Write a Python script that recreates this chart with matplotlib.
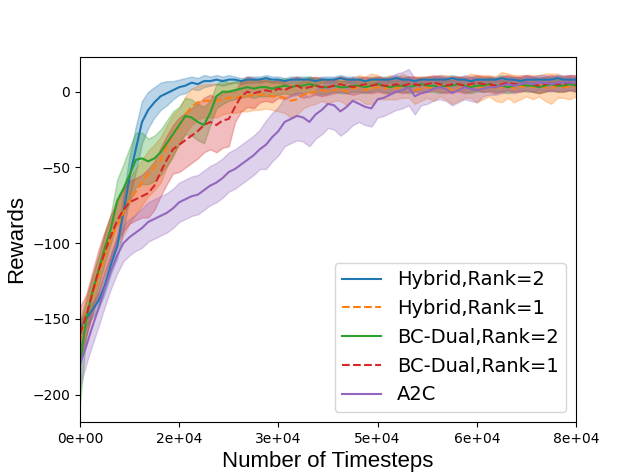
import numpy as np
import matplotlib
matplotlib.use('Agg')
import matplotlib.pyplot as plt
from matplotlib.ticker import FormatStrFormatter

# timesteps, one point per 1000 steps
steps = np.arange(0, 81000, 1000)

# Hybrid, Rank=2
hyb2_mean = [-157, -150, -144, -138, -128, -114, -102, -80, -56, -38,
             -20, -12, -7, -3, -1, 1, 3, 4, 6, 5,
             7, 7, 8, 7, 8, 8, 7, 8, 8, 8,
             9, 8, 8, 7, 8, 8, 8, 8, 7, 8,
             8, 8, 9, 8, 8, 8, 7, 8, 8, 8,
             8, 9, 8, 8, 7, 8, 8, 8, 8, 8,
             9, 8, 8, 7, 8, 8, 8, 8, 9, 8,
             8, 7, 8, 8, 8, 8, 8, 9, 8, 8, 8]
hyb2_std = [6, 5, 5, 5, 5, 6, 8, 12, 14, 15,
            14, 12, 10, 9, 8, 6, 5, 5, 4, 4,
            4, 3, 3, 3, 3, 2, 2, 2, 2, 2,
            2, 2, 2, 2, 2, 2, 2, 2, 2, 2,
            2, 2, 2, 2, 2, 2, 2, 2, 2, 2,
            2, 2, 2, 2, 2, 2, 2, 2, 2, 2,
            2, 2, 2, 2, 2, 2, 2, 2, 2, 2,
            2, 2, 2, 2, 2, 2, 2, 2, 2, 2, 2]

# Hybrid, Rank=1
hyb1_mean = [-165, -148, -135, -122, -108, -97, -88, -80, -72, -66,
             -60, -54, -50, -45, -36, -28, -23, -15, -10, -7,
             -6, -6, -6, -5, -4, -4, -3, -3, -2, -2,
             -2, -3, -3, -4, -6, -5, -2, -1, 0, 1,
             0, 1, 2, 0, 2, 3, 1, 2, 3, 2,
             3, 2, 4, 3, 1, 2, 3, 2, 4, 3,
             1, 2, 3, 4, 2, 3, 4, 2, 3, 4,
             2, 3, 4, 3, 4, 3, 2, 4, 3, 3, 4]
hyb1_std = [14, 13, 13, 13, 14, 14, 15, 15, 15, 15,
            15, 15, 15, 15, 14, 13, 12, 12, 12, 11,
            11, 11, 11, 10, 10, 10, 10, 10, 10, 10,
            9, 9, 10, 10, 11, 10, 9, 8, 8, 7,
            8, 7, 8, 9, 7, 8, 9, 10, 8, 7,
            8, 7, 8, 7, 9, 8, 7, 8, 7, 8,
            9, 8, 7, 8, 9, 8, 7, 8, 10, 8,
            9, 8, 7, 8, 7, 9, 10, 8, 7, 8, 7]

# BC-Dual, Rank=2
bc2_mean = [-180, -150, -132, -118, -103, -90, -72, -64, -55, -45,
            -44, -46, -44, -40, -34, -28, -22, -16, -17, -20,
            -22, -14, -3, 0, 0, 1, 2, 3, 2, 3,
            3, 2, 3, 4, 3, 4, 4, 5, 4, 3,
            3, 4, 3, 3, 4, 4, 3, 4, 5, 4,
            3, 4, 4, 3, 4, 5, 4, 4, 3, 4,
            4, 5, 4, 3, 4, 4, 5, 4, 4, 3,
            4, 5, 4, 4, 3, 4, 5, 4, 4, 5, 4]
bc2_std = [26, 12, 10, 10, 10, 10, 14, 16, 18, 18,
           17, 15, 15, 15, 15, 15, 12, 12, 12, 12,
           12, 8, 8, 8, 6, 6, 6, 6, 6, 6,
           6, 5, 5, 5, 5, 5, 5, 5, 5, 5,
           4, 4, 4, 4, 4, 4, 4, 4, 4, 4,
           4, 4, 4, 4, 4, 4, 4, 4, 4, 4,
           4, 4, 4, 4, 4, 4, 4, 4, 4, 4,
           4, 4, 4, 4, 4, 4, 4, 4, 4, 4, 4]

# BC-Dual, Rank=1
bc1_mean = [-160, -148, -133, -118, -106, -95, -85, -78, -73, -71,
            -69, -67, -62, -53, -45, -38, -35, -32, -29, -26,
            -22, -20, -22, -19, -18, -10, -3, 0, -1, 0,
            1, 0, 2, 1, 3, 4, 2, 3, 4, 3,
            3, 4, 5, 4, 3, 4, 5, 4, 5, 4,
            4, 5, 4, 5, 5, 4, 5, 6, 5, 4,
            5, 5, 4, 5, 6, 5, 5, 4, 5, 6,
            5, 5, 6, 5, 4, 5, 6, 5, 5, 6, 5]
bc1_std = [18, 14, 14, 14, 14, 14, 14, 14, 14, 14,
           14, 16, 16, 16, 16, 16, 18, 18, 18, 18,
           18, 18, 18, 18, 18, 10, 10, 10, 10, 7,
           7, 7, 6, 6, 6, 6, 6, 6, 6, 6,
           5, 5, 5, 5, 5, 5, 5, 5, 5, 5,
           5, 5, 5, 5, 5, 5, 5, 5, 5, 5,
           5, 5, 5, 5, 5, 5, 5, 5, 5, 5,
           5, 5, 5, 5, 5, 5, 5, 5, 5, 5, 5]

# A2C
a2c_mean = [-180, -168, -155, -143, -130, -118, -108, -100, -96, -93,
            -90, -86, -84, -82, -80, -77, -73, -71, -69, -68,
            -65, -62, -60, -57, -53, -51, -48, -45, -42, -38,
            -35, -30, -26, -20, -18, -16, -17, -20, -15, -12,
            -8, -9, -13, -10, -6, -8, -10, -11, -5, -4,
            -2, 0, 1, 3, -3, -1, 0, 2, 3, 2,
            -1, 1, 3, 2, 1, 2, 3, 3, 4, 5,
            4, 5, 6, 5, 6, 6, 5, 6, 6, 6, 6]
a2c_std = [15, 12, 12, 12, 12, 12, 12, 12, 12, 12,
           13, 13, 13, 13, 13, 13, 13, 13, 13, 13,
           13, 13, 13, 13, 13, 13, 13, 13, 13, 13,
           16, 16, 16, 16, 16, 16, 16, 16, 16, 16,
           16, 16, 16, 16, 16, 12, 12, 12, 12, 12,
           12, 12, 12, 12, 12, 8, 8, 8, 8, 8,
           8, 8, 8, 8, 8, 5, 5, 5, 5, 5,
           5, 5, 5, 5, 5, 5, 5, 5, 5, 5, 5]

labels = ['Hybrid,Rank=2', 'Hybrid,Rank=1', 'BC-Dual,Rank=2', 'BC-Dual,Rank=1', 'A2C']
means = [hyb2_mean, hyb1_mean, bc2_mean, bc1_mean, a2c_mean]
stds = [hyb2_std, hyb1_std, bc2_std, bc1_std, a2c_std]
colors = ['C0', 'C1', 'C2', 'C3', 'C4']
styles = ['-', '--', '-', '--', '-']

fig, ax = plt.subplots(figsize=(6.4, 4.74), dpi=100)
for m, s, c, ls, lab in zip(means, stds, colors, styles, labels):
    m = np.array(m, dtype=float)
    s = np.array(s, dtype=float)
    ax.plot(steps, m, color=c, linestyle=ls, label=lab)
    ax.fill_between(steps, m - s, m + s, color=c, alpha=0.3)

ax.set_xlim(0, 80000)
ax.set_ylim(-218, 23)
ax.set_xticks(np.linspace(0, 80000, 6))
ax.xaxis.set_major_formatter(FormatStrFormatter('%.0e'))
ax.set_yticks([-200, -150, -100, -50, 0])
ax.set_xlabel('Number of Timesteps', fontsize=16, family='Liberation Sans')
ax.set_ylabel('Rewards', fontsize=16, family='Liberation Sans')
ax.legend(loc='lower right', fontsize=14)
fig.savefig('out.png')
